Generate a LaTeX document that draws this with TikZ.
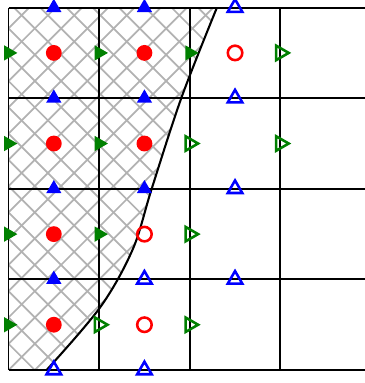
\documentclass[tikz,border=0pt]{standalone}
\usetikzlibrary{shapes.geometric}
\definecolor{hatchgray}{RGB}{178,178,178}
\definecolor{darkgreen}{RGB}{0,128,0}
\begin{document}
\begin{tikzpicture}[x=1cm,y=1cm,
  gridline/.style={black,line width=0.6pt},
  wall/.style={black,line width=0.65pt},
  hatchline/.style={hatchgray,line width=0.55pt},
  pfull/.style={circle,fill=red,inner sep=0pt,minimum size=1.75mm},
  pvoid/.style={circle,draw=red,line width=0.8pt,inner sep=0pt,minimum size=1.6mm},
  ufull/.style={regular polygon,regular polygon sides=3,regular polygon rotate=-90,fill=darkgreen,inner sep=0pt,minimum size=1.95mm},
  uvoid/.style={regular polygon,regular polygon sides=3,regular polygon rotate=-90,draw=darkgreen,line width=0.8pt,inner sep=0pt,minimum size=1.85mm},
  vfull/.style={regular polygon,regular polygon sides=3,fill=blue,inner sep=0pt,minimum size=1.95mm},
  vvoid/.style={regular polygon,regular polygon sides=3,draw=blue,line width=0.8pt,inner sep=0pt,minimum size=1.85mm}]
\useasboundingbox (-0.094,-0.143) rectangle (3.93,4.084);
% solid region
\begin{scope}
\clip (0,0) -- (0,4) -- plot[smooth,tension=0.55] coordinates {(2.30,4) (1.91,3.01) (1.58,2.0) (1.37,1.33) (1.01,0.69) (0.42,0)} -- cycle;
\foreach \k in {-15,...,23} {
  \draw[hatchline] ({\k*0.29},0) -- ++(4.5,4.5);
  \draw[hatchline] ({\k*0.29},0) -- ++(-4.5,4.5);
}
\end{scope}
% grid
\foreach \x in {0,1,2,3} \draw[gridline] (\x,0) -- (\x,4);
\foreach \y in {0,1,2,3,4} \draw[gridline] (0,\y) -- (3.93,\y);
\draw[wall] plot[smooth,tension=0.55] coordinates {(2.30,4) (1.91,3.01) (1.58,2.0) (1.37,1.33) (1.01,0.69) (0.42,0)};
% cell centres
\foreach \x/\y [count=\n] in {0.5/3.5,1.5/3.5,0.5/2.5,1.5/2.5,0.5/1.5,0.5/0.5}
  \node[pfull] (pf\n) at (\x,\y) {};
\foreach \x/\y [count=\n] in {2.5/3.5,1.5/1.5,1.5/0.5}
  \node[pvoid] (pv\n) at (\x,\y) {};
% vertical faces
\foreach \x/\y [count=\n] in {0/3.5,1/3.5,2/3.5,0/2.5,1/2.5,0/1.5,1/1.5,0/0.5}
  \node[ufull] (uf\n) at (\x,\y) {};
\foreach \x/\y [count=\n] in {3/3.5,2/2.5,3/2.5,2/1.5,1/0.5,2/0.5}
  \node[uvoid] (uv\n) at (\x,\y) {};
% horizontal faces
\foreach \x/\y [count=\n] in {0.5/4,1.5/4,0.5/3,1.5/3,0.5/2,1.5/2,0.5/1}
  \node[vfull] (vf\n) at (\x,\y) {};
\foreach \x/\y [count=\n] in {2.5/4,2.5/3,2.5/2,1.5/1,2.5/1,0.5/0,1.5/0}
  \node[vvoid] (vv\n) at (\x,\y) {};
\end{tikzpicture}
\end{document}
